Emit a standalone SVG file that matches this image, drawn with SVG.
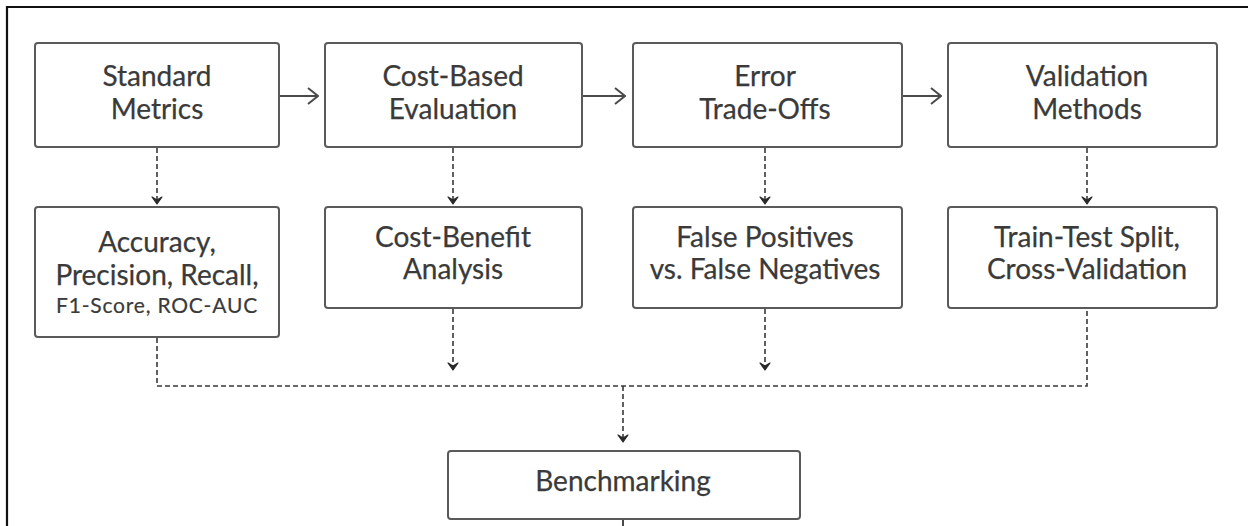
<svg xmlns="http://www.w3.org/2000/svg" width="1248" height="526" viewBox="0 0 1248 526">
  <defs>
    <style>
      .box { fill: #ffffff; stroke: #5a5a5a; stroke-width: 2; }
      .lbl { font-family: Lato, "Noto Sans", "Liberation Sans", sans-serif; font-size: 28px; fill: #3a3a3a; stroke: #3a3a3a; stroke-width: 0.25; text-anchor: middle; }
      .sm { font-size: 21px; letter-spacing: 0.8px; stroke-width: 0.2; }
      .solid { fill: none; stroke: #4a4a4a; stroke-width: 2; }
      .dash { fill: none; stroke: #3a3a3a; stroke-width: 1.6; stroke-dasharray: 5 3; }
    </style>
    <marker id="open" viewBox="0 0 12 18" refX="11" refY="9" markerWidth="12" markerHeight="18" markerUnits="userSpaceOnUse" orient="auto">
      <path d="M1 1 L11 9 L1 17" fill="none" stroke="#4a4a4a" stroke-width="2"/>
    </marker>
    <marker id="tip" viewBox="0 0 12 10" refX="6" refY="9" markerWidth="12" markerHeight="10" markerUnits="userSpaceOnUse" orient="0">
      <path d="M1 2 L6 9 L11 2 L6 5 Z" fill="#2a2a2a" stroke="#2a2a2a" stroke-width="1.2" stroke-linejoin="round"/>
    </marker>
  </defs>

  <rect width="1248" height="526" fill="#ffffff"/>
  <!-- frame -->
  <path d="M7 526 V7 H1248" fill="none" stroke="#111111" stroke-width="2.2"/>

  <g id="connectors">
    <line class="solid" x1="280" y1="96" x2="318" y2="96" marker-end="url(#open)"/>
    <line class="solid" x1="583" y1="96" x2="625" y2="96" marker-end="url(#open)"/>
    <line class="solid" x1="903" y1="96" x2="941" y2="96" marker-end="url(#open)"/>

    <line class="dash" x1="157" y1="148" x2="157" y2="204" marker-end="url(#tip)"/>
    <line class="dash" x1="453" y1="148" x2="453" y2="204" marker-end="url(#tip)"/>
    <line class="dash" x1="765" y1="148" x2="765" y2="204" marker-end="url(#tip)"/>
    <line class="dash" x1="1087" y1="148" x2="1087" y2="204" marker-end="url(#tip)"/>

    <line class="dash" x1="453" y1="309" x2="453" y2="370" marker-end="url(#tip)"/>
    <line class="dash" x1="765" y1="309" x2="765" y2="370" marker-end="url(#tip)"/>
    <path class="dash" d="M157 338 V386 H1087 V309"/>
    <line class="dash" x1="623" y1="386" x2="623" y2="442" marker-end="url(#tip)"/>
    <line class="solid" x1="623" y1="520" x2="623" y2="526" stroke="#6a6a6a"/>
  </g>

  <g id="standard-metrics">
    <rect class="box" x="35" y="43" width="244" height="104" rx="3"/>
    <text class="lbl" x="157" y="86">Standard</text>
    <text class="lbl" x="157" y="119">Metrics</text>
  </g>
  <g id="cost-based-evaluation">
    <rect class="box" x="325" y="43" width="257" height="104" rx="3"/>
    <text class="lbl" x="453" y="86">Cost-Based</text>
    <text class="lbl" x="453" y="119">Evaluation</text>
  </g>
  <g id="error-trade-offs">
    <rect class="box" x="633" y="43" width="269" height="104" rx="3"/>
    <text class="lbl" x="765" y="86">Error</text>
    <text class="lbl" x="765" y="119">Trade-Offs</text>
  </g>
  <g id="validation-methods">
    <rect class="box" x="948" y="43" width="269" height="104" rx="3"/>
    <text class="lbl" x="1087" y="86">Validation</text>
    <text class="lbl" x="1087" y="119">Methods</text>
  </g>

  <g id="accuracy-precision">
    <rect class="box" x="35" y="207" width="244" height="130" rx="3"/>
    <text class="lbl" x="157" y="252">Accuracy,</text>
    <text class="lbl" x="157" y="285">Precision, Recall,</text>
    <text class="lbl sm" x="157" y="313">F1-Score, ROC-AUC</text>
  </g>
  <g id="cost-benefit">
    <rect class="box" x="325" y="207" width="257" height="101" rx="3"/>
    <text class="lbl" x="453" y="247">Cost-Benefit</text>
    <text class="lbl" x="453" y="279">Analysis</text>
  </g>
  <g id="false-positives">
    <rect class="box" x="633" y="207" width="269" height="101" rx="3"/>
    <text class="lbl" x="765" y="247">False Positives</text>
    <text class="lbl" x="765" y="279">vs. False Negatives</text>
  </g>
  <g id="train-test">
    <rect class="box" x="948" y="207" width="269" height="101" rx="3"/>
    <text class="lbl" x="1087" y="247">Train-Test Split,</text>
    <text class="lbl" x="1087" y="279">Cross-Validation</text>
  </g>

  <g id="benchmarking">
    <rect class="box" x="448" y="451" width="352" height="68" rx="3"/>
    <text class="lbl" x="623" y="491">Benchmarking</text>
  </g>
</svg>
